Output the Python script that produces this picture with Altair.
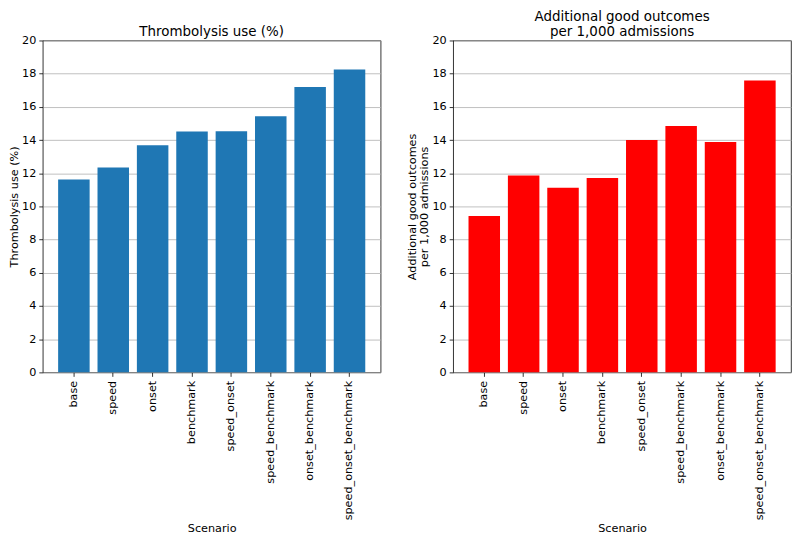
import altair as alt
import pandas as pd

scenarios = ["base", "speed", "onset", "benchmark", "speed_onset",
             "speed_benchmark", "onset_benchmark", "speed_onset_benchmark"]
thrombolysis_use = [11.62, 12.35, 13.68, 14.51, 14.53, 15.43, 17.19, 18.25]
good_outcomes = [9.43, 11.86, 11.12, 11.72, 14.00, 14.84, 13.88, 17.59]

df = pd.DataFrame({"Scenario": scenarios,
                   "use": thrombolysis_use,
                   "outcomes": good_outcomes})

FONT = "DejaVu Sans"
LBL = 11.3
W, H = 340, 334

xenc = alt.X("Scenario:N", sort=scenarios,
             scale=alt.Scale(paddingInner=0.2, paddingOuter=0.39),
             axis=alt.Axis(title="Scenario", labelAngle=270, labelAlign="right",
                           labelBaseline="middle", grid=False, domain=False,
                           tickColor="black", tickSize=4, tickWidth=0.8,
                           labelPadding=4, labelFontSize=LBL, labelColor="black",
                           titleFontSize=LBL, titleFontWeight="normal",
                           titleColor="black", titlePadding=3))


def yenc(field, title):
    return alt.Y(f"{field}:Q",
                 scale=alt.Scale(domain=[0, 20], nice=False, zero=True),
                 axis=alt.Axis(title=title, values=list(range(0, 21, 2)),
                               grid=True, gridColor="#b0b0b0", gridWidth=0.8,
                               domain=False, tickColor="black", tickSize=4,
                               tickWidth=0.8, labelPadding=3, labelFontSize=LBL,
                               labelColor="black", titleFontSize=LBL,
                               titleFontWeight="normal", titleColor="black",
                               titlePadding=2, titleLineHeight=13))


left = alt.Chart(df).mark_bar(color="#1f77b4").encode(
    x=xenc, y=yenc("use", "Thrombolysis use (%)")
).properties(width=W, height=H,
             title=alt.TitleParams(["", "Thrombolysis use (%)"], fontSize=13.5,
                                   fontWeight="normal", font=FONT,
                                   color="black", offset=-4, lineHeight=15))

right = alt.Chart(df).mark_bar(color="#ff0000").encode(
    x=xenc, y=yenc("outcomes", ["Additional good outcomes", "per 1,000 admissions"])
).properties(width=W, height=H,
             title=alt.TitleParams(["Additional good outcomes", "per 1,000 admissions"],
                                   fontSize=13.5, fontWeight="normal", font=FONT,
                                   color="black", offset=-4, lineHeight=15))

chart = alt.hconcat(left, right, spacing=24).configure(
    font=FONT, padding=0
).configure_view(stroke="black", strokeWidth=0.8)

chart.save("out.html", embed_options={"renderer": "svg", "actions": False})
